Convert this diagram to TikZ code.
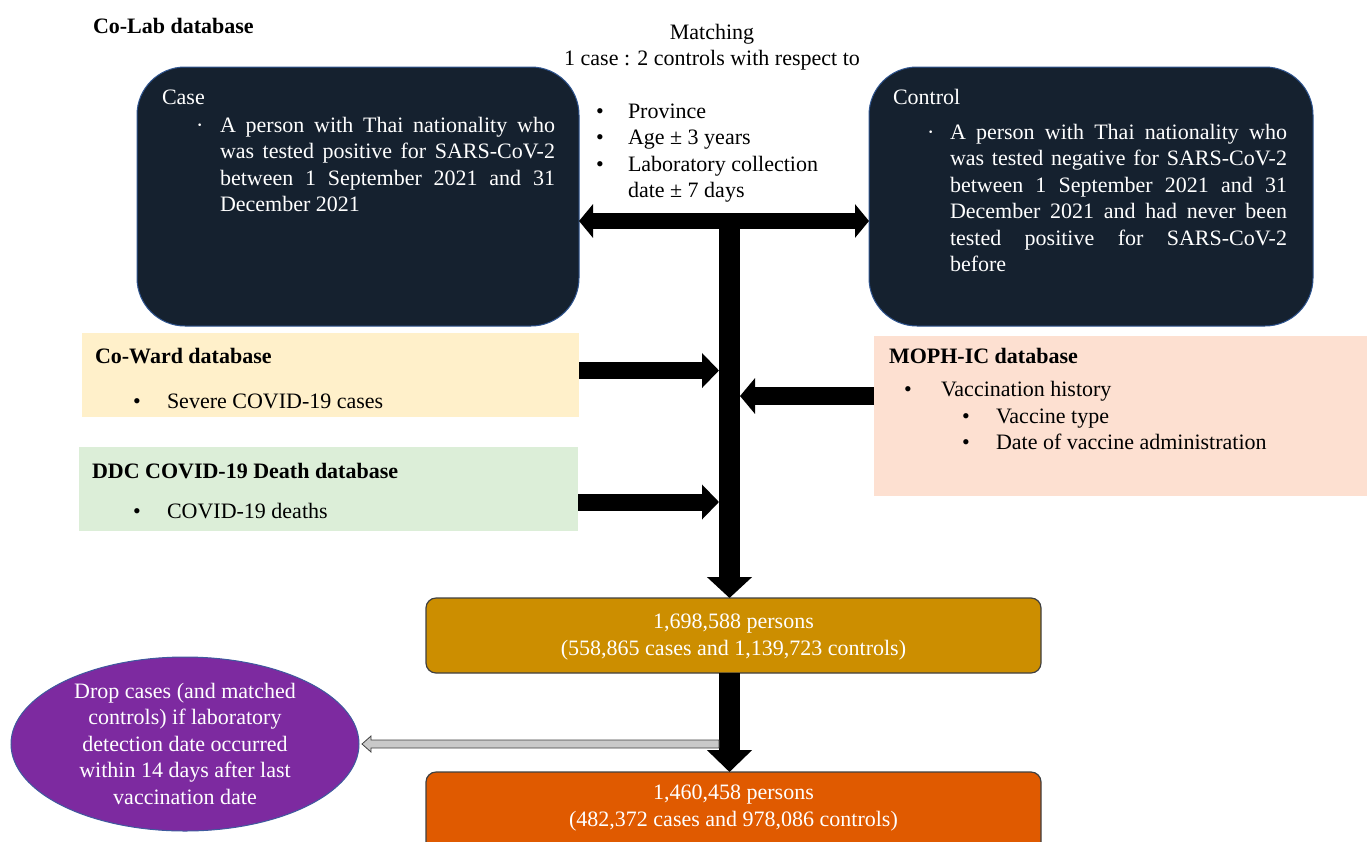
\documentclass[tikz,border=0pt]{standalone}
\usepackage{fontspec}
\setmainfont{Liberation Serif}
\usetikzlibrary{arrows.meta,calc,shapes.geometric}
\definecolor{navy}{HTML}{15212F}
\definecolor{navyborder}{HTML}{2F5590}
\definecolor{cowardfill}{HTML}{FFF0CA}
\definecolor{ddcfill}{HTML}{DCEED8}
\definecolor{mophfill}{HTML}{FDE0D1}
\definecolor{goldfill}{HTML}{CC8E00}
\definecolor{orangefill}{HTML}{E05A00}
\definecolor{purplefill}{HTML}{7D2AA0}
\definecolor{purpleborder}{HTML}{3F5A9E}
\definecolor{greyarrow}{HTML}{C9C9C9}
\definecolor{boxborder}{HTML}{404040}
\newcommand\jline[1]{\makebox[335pt][s]{#1}}
\newcommand\jlinec[1]{\makebox[337pt][s]{#1}}
\begin{document}
\begin{tikzpicture}[x=1pt,y=-1pt,
  every node/.style={inner sep=0pt, outer sep=0pt},
  txt/.style={anchor=base west, align=left, font=\fontsize{22}{26.5}\selectfont},
  wtxt/.style={txt, text=white},
  ctxt/.style={anchor=base, align=center, font=\fontsize{22}{26.5}\selectfont},
  navybox/.style={draw=navyborder, line width=1pt, fill=navy, rounded corners=48pt},
  flatbox/.style={draw=none},
  numbox/.style={draw=boxborder, line width=1.2pt, rounded corners=10pt},
  bigarrow/.style={line width=#1, draw=black},
]
\clip (0,0) rectangle (1367,841);

% ---------- boxes ----------
\node[navybox, minimum width=442pt, minimum height=259pt] (case) at (358,196.5) {};
\node[navybox, minimum width=444pt, minimum height=259pt] (control) at (1091,196.5) {};
\node[flatbox, fill=cowardfill, minimum width=497pt, minimum height=84pt] (coward) at (330.5,375) {};
\node[flatbox, fill=ddcfill, minimum width=499pt, minimum height=84pt] (ddc) at (328.5,489) {};
\node[flatbox, fill=mophfill, minimum width=493pt, minimum height=160pt] (moph) at (1120.5,416) {};
\node[numbox, fill=goldfill, minimum width=615pt, minimum height=75pt] (total) at (733.5,635.5) {};
\node[numbox, fill=orangefill, minimum width=615pt, minimum height=90pt] (final) at (733.5,817) {};
\node[ellipse, draw=purpleborder, line width=1pt, fill=purplefill, minimum width=348pt, minimum height=174pt] (drop) at (185,744) {};

% ---------- texts (base anchor = baseline of the last line) ----------
\node[txt, font=\bfseries\fontsize{22}{26.5}\selectfont] (colab) at (93,33) {Co-Lab database};
\node[ctxt] (matching) at (712,65.5) {Matching\\1 case : 2 controls with respect to};
\node[txt] (mb) at (596,171) {•\\•\\•};
\node[txt] (mt) at (628,197.5) {Province\\Age ± 3 years\\Laboratory collection\\date ± 7 days};

\node[wtxt] (casettl) at (162,104) {Case};
\node[wtxt] (casedot) at (196,132) {·};
\node[wtxt] (casetxt) at (220,211.5) {\jline{A person with Thai nationality who}\\
  \jline{was tested positive for SARS-CoV-2}\\
  \jline{between 1 September 2021 and 31}\\
  December 2021};

\node[wtxt] (controlttl) at (893,104) {Control};
\node[wtxt] (controldot) at (927,139) {·};
\node[wtxt] (controltxt) at (950,271.5) {\jlinec{A person with Thai nationality who}\\
  \jlinec{was tested negative for SARS-CoV-2}\\
  \jlinec{between 1 September 2021 and 31}\\
  \jlinec{December 2021 and had never been}\\
  \jlinec{tested positive for SARS-CoV-2}\\
  before};

\node[txt, font=\bfseries\fontsize{22}{26.5}\selectfont] (cowardttl) at (95,363) {Co-Ward database};
\node[txt] (cowardb) at (133,408) {•};
\node[txt] (cowardt) at (167,408) {Severe COVID-19 cases};

\node[txt, font=\bfseries\fontsize{22}{26.5}\selectfont] (ddcttl) at (92,478) {DDC COVID-19 Death database};
\node[txt] (ddcb) at (133,518) {•};
\node[txt] (ddct) at (167,518) {COVID-19 deaths};

\node[txt, font=\bfseries\fontsize{22}{26.5}\selectfont] (mophttl) at (889,363) {MOPH-IC database};
\node[txt] (mophb) at (904,396) {•};
\node[txt] (mopht) at (941,396) {Vaccination history};
\node[txt] (mophb2) at (962,449.5) {•\\•};
\node[txt] (mopht2) at (996,449.5) {Vaccine type\\Date of vaccine administration};

\node[ctxt, text=white] (totalt) at (733.5,655) {1,698,588 persons\\(558,865 cases and 1,139,723 controls)};
\node[ctxt, text=white] (finalt) at (733.5,826) {1,460,458 persons\\(482,372 cases and 978,086 controls)};
\node[ctxt, text=white] (dropt) at (185,804) {Drop cases (and matched\\controls) if laboratory\\detection date occurred\\within 14 days after last\\vaccination date};

% ---------- connectors ----------
\coordinate (mid) at (729.5,221);
\coordinate (stemL) at (719,0);
\coordinate (stemR) at (740,0);
\coordinate (cwy) at (0,370.5);
\coordinate (ddy) at (0,502);
\coordinate (mpy) at (0,396);
\coordinate (gry) at (0,744);

\draw[bigarrow=16pt, {Triangle[length=14pt,width=33pt]}-{Triangle[length=14pt,width=33pt]}]
  (case.east |- mid) -- (control.west |- mid);
\draw[bigarrow=21pt, -{Triangle[length=21pt,width=44pt]}] (mid) -- (mid |- total.north);
\draw[bigarrow=17pt, -{Triangle[length=17pt,width=34pt]}] (coward.east |- cwy) -- (stemL |- cwy);
\draw[bigarrow=17pt, -{Triangle[length=17pt,width=34pt]}] (ddc.east |- ddy) -- (stemL |- ddy);
\draw[bigarrow=18pt, -{Triangle[length=15pt,width=35pt]}] (moph.west |- mpy) -- (stemR |- mpy);
\draw[bigarrow=21pt, -{Triangle[length=22pt,width=44pt]}] (mid |- total.south) -- (mid |- final.north);
\filldraw[fill=greyarrow, draw=boxborder, line width=0.8pt]
  ($(drop.east)+(3,0)$) -- ++(9,-8) -- ++(0,4) -- ($(stemL |- gry)+(0,-4)$)
  -- ($(stemL |- gry)+(0,4)$) -- ($(drop.east)+(12,4)$) -- ++(0,4) -- cycle;
\end{tikzpicture}
\end{document}
